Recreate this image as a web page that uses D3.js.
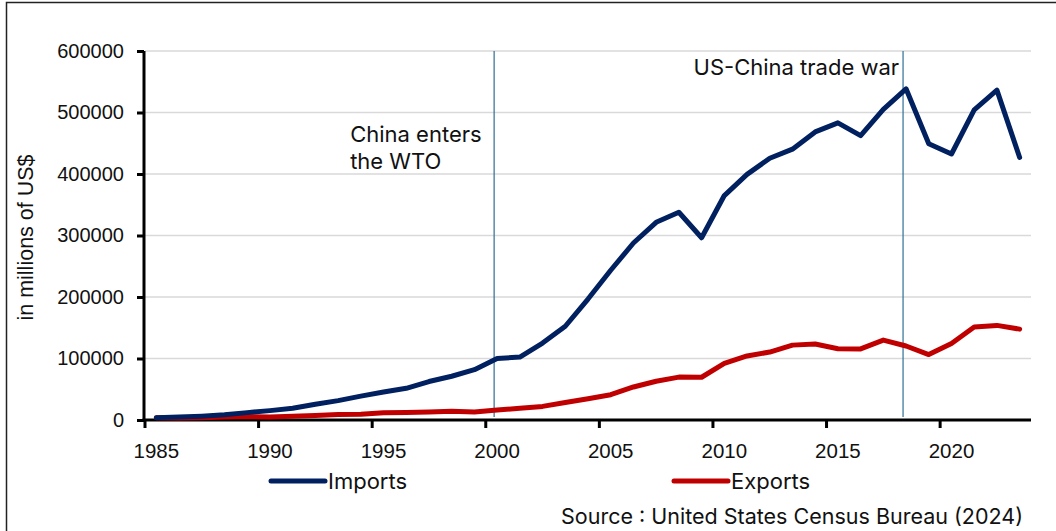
<!DOCTYPE html>
<html>
<head>
<meta charset="utf-8">
<script src="https://cdn.jsdelivr.net/npm/d3@7"></script>
<style>
  html, body { margin: 0; padding: 0; background: #fff; }
  svg { display: block; }
</style>
</head>
<body>
<svg id="chart" width="1056" height="531"></svg>
<script>
// US trade in goods with China, millions of US$
const years = d3.range(1985, 2024);
const imports = [
  3862, 4771, 6294, 8511, 11990, 15237, 18969, 25728, 31540, 38787,
  45543, 51513, 62558, 71169, 81788, 100018, 102278, 125193, 152436, 196682,
  243470, 287774, 321443, 337773, 296374, 364953, 399335, 425619, 440430, 468475,
  483202, 462420, 505165, 538514, 449111, 432548, 504287, 536307, 426885
];
const exports = [
  3856, 3106, 3497, 5021, 5755, 4806, 6278, 7418, 8763, 9282,
  11754, 11993, 12862, 14241, 13111, 16185, 19182, 22128, 28368, 34428,
  41192, 53673, 62937, 69733, 69497, 91911, 104122, 110517, 121746, 123657,
  115873, 115595, 129894, 120281, 106448, 124485, 151065, 153837, 147779
];
const yTicks = [0, 100000, 200000, 300000, 400000, 500000, 600000];
const xTickYears = [1985, 1990, 1995, 2000, 2005, 2010, 2015, 2020];
const events = [
  { year: 2000, lines: ["China enters", "the WTO"] },
  { year: 2018, lines: ["US-China trade war"] }
];
const seriesInfo = [
  { name: "Imports", values: imports, color: "#002060" },
  { name: "Exports", values: exports, color: "#C00000" }
];
const sourceText = "Source : United States Census Bureau (2024)";
const yTitle = "in millions of US$";

const svg = d3.select("#chart");
const plot = { left: 145, right: 1031, top: 51, bottom: 420 };
const labelFont = "'Liberation Sans', Arial, sans-serif";
const noteFont = "Inter, 'Open Sans', sans-serif";

// outer chart frame
svg.append("rect")
  .attr("x", 6.5).attr("y", 2.5)
  .attr("width", 1100).attr("height", 600)
  .attr("fill", "none").attr("stroke", "#222").attr("stroke-width", 1.5);

const x = d3.scaleBand().domain(years).range([plot.left, plot.right]).padding(0);
const xc = yr => x(yr) + x.bandwidth() / 2;
const y = d3.scaleLinear().domain([0, 600000]).range([plot.bottom, plot.top]);

// horizontal gridlines
svg.append("g")
  .selectAll("line")
  .data(yTicks.filter(v => v > 0))
  .join("line")
  .attr("x1", plot.left).attr("x2", plot.right)
  .attr("y1", d => y(d)).attr("y2", d => y(d))
  .attr("stroke", "#d9d9d9").attr("stroke-width", 1.5);

// y axis
const yAxis = svg.append("g")
  .attr("transform", `translate(${plot.left - 1},0)`)
  .call(d3.axisLeft(y).tickValues(yTicks).tickFormat(d3.format("d")).tickSize(7).tickPadding(13));
yAxis.select(".domain").attr("stroke", "#000").attr("stroke-width", 3).attr("d", `M0,${plot.top}V${plot.bottom}`);
yAxis.selectAll(".tick line").attr("stroke", "#000").attr("stroke-width", 3);
yAxis.selectAll(".tick text")
  .attr("font-family", labelFont).attr("font-size", 20).attr("fill", "#111");

// x axis: ticks at category boundaries, labels at category centres
const xAxis = svg.append("g").attr("transform", `translate(0,${plot.bottom})`);
xAxis.append("line")
  .attr("x1", plot.left - 2.5).attr("x2", plot.right)
  .attr("stroke", "#000").attr("stroke-width", 3);
xAxis.selectAll(".xtick")
  .data(xTickYears)
  .join("line")
  .attr("class", "xtick")
  .attr("x1", d => x(d)).attr("x2", d => x(d))
  .attr("y1", 0).attr("y2", 8)
  .attr("stroke", "#000").attr("stroke-width", 3);
xAxis.selectAll(".xlabel")
  .data(xTickYears)
  .join("text")
  .attr("class", "xlabel")
  .attr("x", d => xc(d)).attr("y", 38)
  .attr("text-anchor", "middle")
  .attr("font-family", labelFont).attr("font-size", 20.5).attr("fill", "#111")
  .text(d => d);

// y axis title
svg.append("text")
  .attr("transform", `translate(33,${(plot.top + plot.bottom) / 2 + 2}) rotate(-90)`)
  .attr("text-anchor", "middle")
  .attr("font-family", labelFont).attr("font-size", 21.5).attr("fill", "#111")
  .text(yTitle);

// event markers
const ev = svg.append("g");
ev.selectAll("line")
  .data(events)
  .join("line")
  .attr("x1", d => xc(d.year) - 3).attr("x2", d => xc(d.year) - 3)
  .attr("y1", plot.top).attr("y2", plot.bottom - 3)
  .attr("stroke", "#2f6f94").attr("stroke-width", 1.2);

// series lines
const line = d3.line().x((d, i) => xc(years[i])).y(d => y(d));
svg.append("g")
  .selectAll("path")
  .data(seriesInfo.slice().reverse())
  .join("path")
  .attr("d", d => line(d.values))
  .attr("fill", "none")
  .attr("stroke", d => d.color)
  .attr("stroke-width", 5)
  .attr("stroke-linejoin", "round")
  .attr("stroke-linecap", "round");

// event notes
const wto = events[0], war = events[1];
svg.append("text")
  .attr("y", 142)
  .attr("font-family", noteFont).attr("font-size", 22).attr("fill", "#111")
  .selectAll("tspan")
  .data(wto.lines)
  .join("tspan")
  .attr("x", xc(wto.year) - 147)
  .attr("dy", (d, i) => i === 0 ? 0 : 27)
  .text(d => d);
svg.append("text")
  .attr("x", xc(war.year) - 7).attr("y", 75)
  .attr("text-anchor", "end")
  .attr("font-family", noteFont).attr("font-size", 22).attr("fill", "#111")
  .text(war.lines[0]);

// legend
const legendX = [271, 674];
const legend = svg.append("g").attr("transform", "translate(0,481)");
seriesInfo.forEach((s, i) => {
  legend.append("line")
    .attr("x1", legendX[i]).attr("x2", legendX[i] + 54)
    .attr("stroke", s.color).attr("stroke-width", 5).attr("stroke-linecap", "round");
  legend.append("text")
    .attr("x", legendX[i] + 57).attr("y", 8)
    .attr("font-family", noteFont).attr("font-size", 22).attr("fill", "#111")
    .text(s.name);
});

// source note
svg.append("text")
  .attr("x", 1023).attr("y", 524)
  .attr("text-anchor", "end")
  .attr("font-family", noteFont).attr("font-size", 21.5).attr("fill", "#111")
  .text(sourceText);
</script>
</body>
</html>
